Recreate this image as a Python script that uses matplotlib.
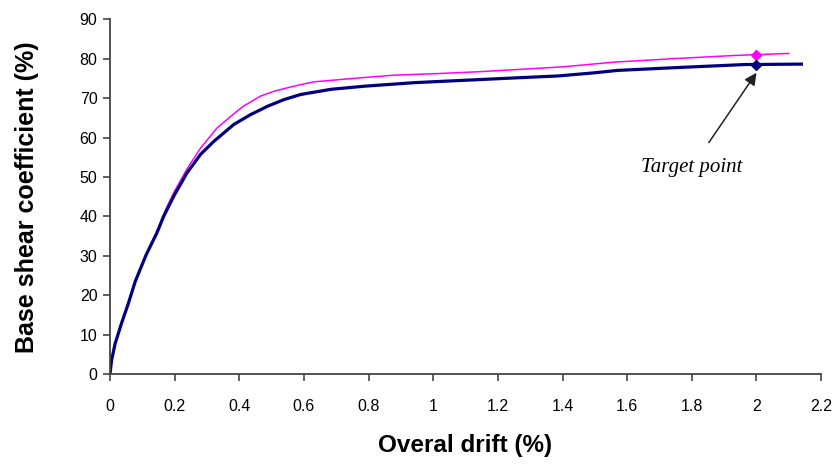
import matplotlib
matplotlib.use('Agg')
import matplotlib.pyplot as plt

# pushover curves
drift_a = [0, 0.005, 0.016, 0.036, 0.057, 0.078, 0.093, 0.112, 0.145, 0.171, 0.197,
           0.238, 0.280, 0.331, 0.383, 0.414, 0.466, 0.507, 0.549, 0.590, 0.631,
           0.756, 0.88, 1.015, 1.15, 1.40, 1.56, 1.749, 1.936, 2.0, 2.10]
shear_a = [0, 3.6, 7.8, 13, 18, 23.5, 26.5, 30.3, 36.2, 41.5, 46,
           52, 57.3, 62.4, 66.0, 68.0, 70.5, 71.7, 72.6, 73.4, 74.1,
           75.0, 75.8, 76.2, 76.7, 77.9, 79.1, 80.0, 80.8, 81.0, 81.3]

drift_b = [0, 0.005, 0.016, 0.036, 0.057, 0.078, 0.093, 0.112, 0.145, 0.166, 0.197,
           0.238, 0.280, 0.321, 0.383, 0.435, 0.487, 0.538, 0.590, 0.683, 0.787,
           0.942, 1.149, 1.253, 1.387, 1.50, 1.57, 1.749, 1.967, 2.0, 2.139]
shear_b = [0, 3.6, 7.8, 13, 18, 23.5, 26.5, 30.3, 35.8, 40, 45.1,
           51, 55.7, 59, 63.3, 65.8, 67.9, 69.6, 70.9, 72.2, 73.0,
           73.9, 74.7, 75.1, 75.6, 76.4, 77.0, 77.7, 78.5, 78.5, 78.6]

target_x = 2.0
target_a = 81.0
target_b = 78.4

fig = plt.figure(figsize=(8.37, 4.66), dpi=100)
ax = fig.add_axes([0.1314, 0.1968, 0.8496, 0.7622])

ax.plot(drift_a, shear_a, color='#FF00FF', lw=1.1)
ax.plot(drift_b, shear_b, color='#000080', lw=2.3)
ax.plot(target_x, target_a, 'D', color='#FF00FF', ms=5)
ax.plot(target_x, target_b, 'D', color='#000080', ms=5)

ax.annotate('Target point', xy=(target_x, 76.4), xytext=(1.80, 52.4),
            ha='center', va='center', fontsize=15, style='italic',
            family='Liberation Serif',
            arrowprops=dict(arrowstyle='-|>', color='#222222', lw=1.1,
                            mutation_scale=18, shrinkA=11, shrinkB=0))

ax.set_xlim(0, 2.2)
ax.set_ylim(0, 90)
ax.set_xticks([0, 0.2, 0.4, 0.6, 0.8, 1, 1.2, 1.4, 1.6, 1.8, 2, 2.2])
ax.set_xticklabels(['0', '0.2', '0.4', '0.6', '0.8', '1', '1.2', '1.4', '1.6', '1.8', '2', '2.2'])
ax.set_yticks(range(0, 91, 10))

for s in ['top', 'right']:
    ax.spines[s].set_visible(False)
for s in ['left', 'bottom']:
    ax.spines[s].set_color('#444444')
    ax.spines[s].set_linewidth(1.3)
ax.tick_params(direction='out', length=5, width=1.2, color='#444444',
               labelsize=11.5)
ax.tick_params(axis='x', pad=13)
ax.tick_params(axis='y', pad=4)
for lab in ax.get_xticklabels() + ax.get_yticklabels():
    lab.set_family('Liberation Sans')

ax.set_xlabel('Overal drift (%)', fontsize=17.5, fontweight='bold',
              family='Liberation Sans', labelpad=14)
ax.set_ylabel('Base shear coefficient (%)', fontsize=18, fontweight='bold',
              family='Liberation Sans', labelpad=29)

fig.savefig('out.png', dpi=100)
